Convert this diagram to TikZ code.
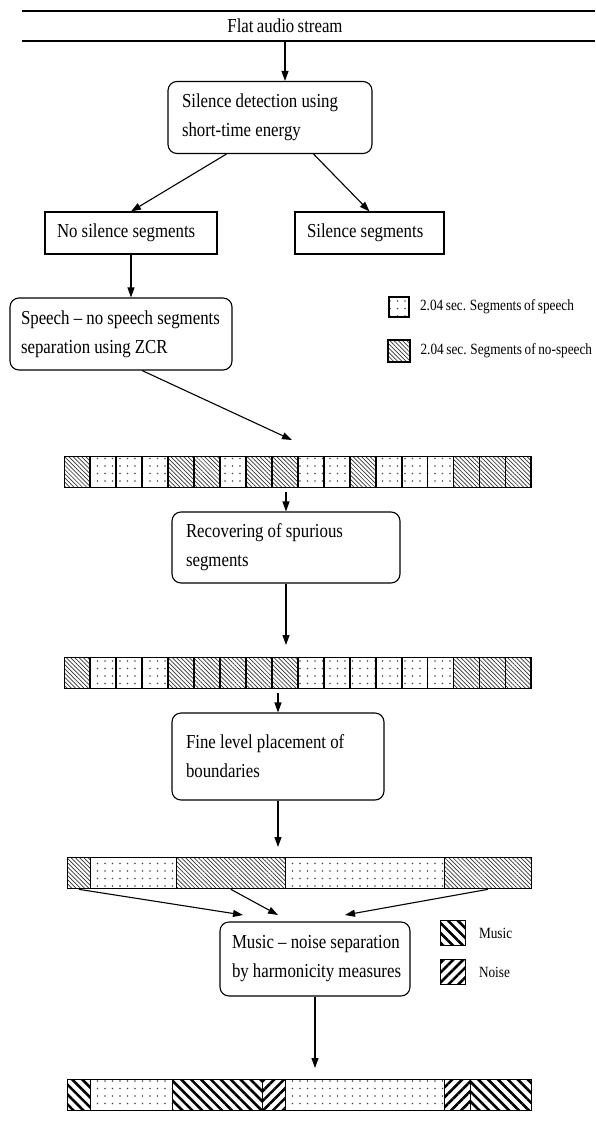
\documentclass[tikz,border=0pt]{standalone}
\usepackage{fontspec}
\setmainfont{Liberation Serif}[FakeStretch=0.85,WordSpace=0.8]
\usetikzlibrary{matrix,positioning,calc,fit,patterns.meta,arrows.meta}
\newcommand{\mainsz}{\fontsize{19.8}{29}\selectfont}
\newcommand{\lgdsz}{\fontsize{15.6}{18}\selectfont}
\newcommand{\tightsp}{\spaceskip=0.21em\relax}
\tikzset{rbox/.style={draw,line width=1.1pt,rounded corners=9pt,align=left,inner xsep=14pt,font=\mainsz,
    execute at begin node=\tightsp},
  sbox/.style={draw,line width=1.1pt,align=left,inner xsep=12pt,font=\mainsz,
    execute at begin node=\tightsp},
  arr/.style={line width=1.1pt,-{Triangle[length=10pt,width=7pt]}},
  seg/.style={draw,line width=1.8pt,inner sep=0pt,minimum height=31pt},
  spc/.style={seg,pattern={Dots[distance=7.5pt,radius=0.8pt]},pattern color=black!70},
  nsp/.style={seg,pattern={Lines[angle=-45,distance=3pt,line width=0.7pt]},pattern color=black!80},
  mus/.style={seg,pattern={Lines[angle=-45,distance=7pt,line width=2.6pt]}},
  noi/.style={seg,pattern={Lines[angle=45,distance=7pt,line width=2.6pt]}},
  lgd/.style={font=\lgdsz,inner xsep=0pt}}
\begin{document}
\begin{tikzpicture}[x=1pt,y=-1pt,font=\mainsz]
          \useasboundingbox (0,0) rectangle (595,1126);

          % input stream
          \draw[line width=1.1pt] (22,11) -- (595,11) (22,41) -- (595,41);
          \node (flat) at (285,26) {Flat audio stream};
          \coordinate (src) at (285,41);

          % silence / no silence
          \node[rbox,text width=176pt,minimum height=72pt] (det) at (270,117.5) {\mbox{Silence detection using}\\\mbox{short-time energy}};
          \node[sbox,text width=148pt,minimum height=42pt] (nosil) at (131,233) {\mbox{No silence segments}};
          \node[sbox,text width=125pt,minimum height=42pt] (sil) at (369.5,233) {\mbox{Silence segments}};
          \node[rbox,text width=200pt,minimum height=72pt,inner xsep=11pt] (speech) at (121,334) {\mbox{Speech – no speech segments}\\\mbox{separation using ZCR}};

          \draw[arr] (src) -- (src |- det.north);
          \draw[arr] (det.220) -- (nosil.north);
          \draw[arr] (det.320) -- (sil.north);
          \draw[arr] (nosil.south) -- (nosil.south |- speech.north);

          % legend
          \node[spc,minimum size=20pt] (lspc) at (399,307) {};
          \node[lgd,right=10pt of lspc] (lspct) {2.04 sec. Segments of speech};
          \node[nsp,minimum size=22pt] (lnsp) at (399,351) {};
          \node[lgd,right=10pt of lnsp] (lnspt) {2.04 sec. Segments of no-speech};

          % segments after ZCR
          \coordinate (b1in) at (292,440);
          \draw[arr] (speech.300) -- (b1in);
          \matrix (B1) [matrix of nodes,nodes={minimum width=25.94pt},column sep=-1.8pt,anchor=north west] at (60,452)
          {
            |[nsp]| & |[spc]| & |[spc]| & |[spc]| & |[nsp]| & |[nsp]| & |[spc]| & |[nsp]| & |[nsp]| & |[spc]| & |[spc]| & |[nsp]| & |[spc]| & |[spc]| & |[spc]| & |[nsp]| & |[nsp]| & |[nsp]| \\
          };

          \node[rbox,text width=200pt,minimum height=71pt] (recov) at (286,547.5) {\mbox{Recovering of spurious}\\\mbox{segments}};
          \draw[arr] (B1.south -| recov.north) -- (recov.north);

          % segments after recovering
          \matrix (B2) [matrix of nodes,nodes={minimum width=25.94pt},column sep=-1.8pt,anchor=north west] at (60,653)
          {
            |[nsp]| & |[spc]| & |[spc]| & |[spc]| & |[nsp]| & |[nsp]| & |[nsp]| & |[nsp]| & |[nsp]| & |[spc]| & |[spc]| & |[spc]| & |[spc]| & |[spc]| & |[spc]| & |[nsp]| & |[nsp]| & |[nsp]| \\
          };
          \draw[arr,shorten >=8pt] (recov.south) -- (recov.south |- B2.north);

          \node[rbox,text width=184pt,minimum height=87pt] (fine) at (278,756.5) {\mbox{Fine level placement of}\\\mbox{boundaries}};
          \draw[arr] (B2.south -| fine.north) -- (fine.north);

          % fine boundaries
          \matrix (B3) [matrix of nodes,column sep=-1.8pt,anchor=north west] at (63,853)
          {
            |[nsp,minimum width=23pt]| & |[spc,minimum width=86pt]| & |[nsp,minimum width=109pt]| & |[spc,minimum width=159pt]| & |[nsp,minimum width=87pt]| \\
          };
          \draw[arr,shorten >=6pt] (fine.south) -- (fine.south |- B3.north);

          % music / noise
          \node[rbox,text width=166pt,minimum height=74pt,inner xsep=12pt] (music) at (315,959) {\mbox{Music – noise separation}\\\mbox{by harmonicity measures}};
          \coordinate (m1) at (243,915);
          \coordinate (m2) at (278,915);
          \coordinate (m3) at (345,915);
          \draw[arr] (B3-1-1.south) -- (m1);
          \draw[arr] (B3-1-3.south) -- (m2);
          \draw[arr] (B3-1-5.south) -- (m3);

          \node[mus,minimum size=25pt] (lmus) at (453,933) {};
          \node[lgd,right=12pt of lmus] (lmust) {Music};
          \node[noi,minimum size=25pt] (lnoi) at (453,972) {};
          \node[lgd,right=12pt of lnoi] (lnoit) {Noise};

          % final labelling
          \matrix (B4) [matrix of nodes,column sep=-1.8pt,anchor=north west] at (63,1075)
          {
            |[mus,minimum width=23pt]| & |[spc,minimum width=82pt]| & |[mus,minimum width=90pt]| & |[noi,minimum width=23pt]| & |[spc,minimum width=159pt]| & |[noi,minimum width=26pt]| & |[mus,minimum width=61pt]| \\
          };
          \draw[arr,shorten >=7pt] (music.south) -- (music.south |- B4.north);
\end{tikzpicture}
\end{document}
